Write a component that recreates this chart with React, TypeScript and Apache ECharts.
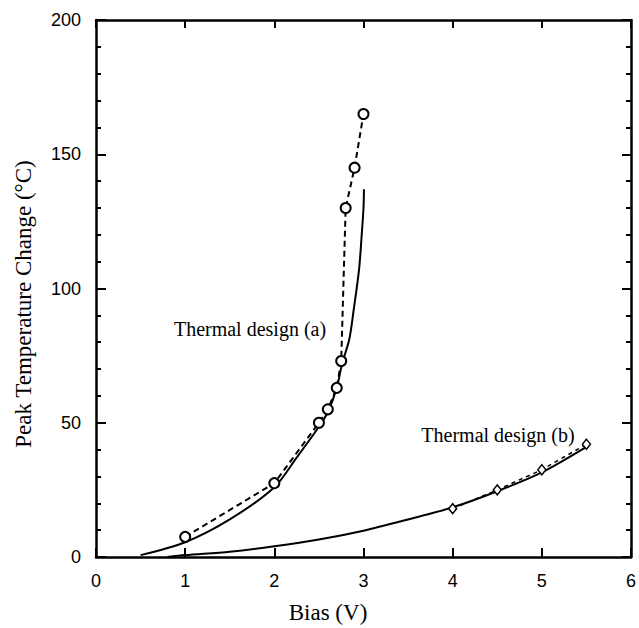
import React, { useEffect, useRef } from "react";
import * as echarts from "echarts";

// Thermal design (a): measured points (circles, dashed) and model (solid)
const designAMeasuredX = [1, 2, 2.5, 2.6, 2.7, 2.75, 2.8, 2.9, 3.0];
const designAMeasuredY = [7.5, 27.5, 50, 55, 63, 73, 130, 145, 165];
const designAModelX = [0.5, 1, 1.5, 2, 2.25, 2.5, 2.6, 2.7, 2.76, 2.84, 2.89, 2.95, 2.98, 3.0, 3.005];
const designAModelY = [0.7, 5.5, 14, 26, 37, 48.5, 54, 63, 72, 81, 92, 107, 120, 130, 137];

// Thermal design (b): measured points (diamonds, dashed) and model (solid)
const designBMeasuredX = [4, 4.5, 5, 5.5];
const designBMeasuredY = [18, 25, 32.5, 42];
const designBModelX = [0.8, 1, 1.5, 2, 2.5, 3, 3.5, 4, 4.5, 5, 5.5];
const designBModelY = [0, 0.7, 2, 4, 6.5, 9.8, 14, 18.5, 24.5, 31.5, 41];

const xTicks = [0, 1, 2, 3, 4, 5, 6];
const yTicks = [0, 50, 100, 150, 200];

const xTitle = "Bias (V)";
const yTitle = "Peak Temperature Change (°C)";
const labelA = "Thermal design (a)";
const labelB = "Thermal design (b)";

const zip = (xs: number[], ys: number[]) => xs.map((x, i) => [x, ys[i]]);

const SANS = "'Liberation Sans', Arial, sans-serif";
const SERIF = "'Liberation Serif', 'Times New Roman', serif";

export default function App() {
  const ref = useRef<HTMLDivElement>(null);

  useEffect(() => {
    if (!ref.current) return;
    const chart = echarts.init(ref.current, undefined, { renderer: "svg" });

    const axisLine = { show: true, onZero: false, lineStyle: { color: "#000", width: 2.5 } };
    const xBase = {
      type: "value" as const,
      min: xTicks[0],
      max: xTicks[xTicks.length - 1],
      interval: 1,
      splitLine: { show: false },
      axisLine,
    };
    const yBase = {
      type: "value" as const,
      min: yTicks[0],
      max: yTicks[yTicks.length - 1],
      interval: 50,
      splitLine: { show: false },
      minorSplitLine: { show: false },
      axisLine,
    };

    chart.setOption({
      animation: false,
      backgroundColor: "#fff",
      grid: { left: 96, right: 6, top: 20, bottom: 71, containLabel: false },
      xAxis: [
        {
          ...xBase,
          position: "bottom",
          axisTick: { show: true, inside: true, length: 9, lineStyle: { color: "#000", width: 2 } },
          axisLabel: {
            show: true,
            margin: 15,
            color: "#000",
            fontSize: 18,
            fontFamily: SANS,
          },
        },
        {
          ...xBase,
          position: "top",
          axisTick: { show: true, inside: true, length: 8, lineStyle: { color: "#000", width: 2 } },
          axisLabel: { show: false },
        },
      ],
      yAxis: [
        {
          ...yBase,
          position: "left",
          axisTick: { show: true, inside: true, length: 10, lineStyle: { color: "#000", width: 2 } },
          minorTick: { show: true, splitNumber: 5, length: 5, lineStyle: { color: "#000", width: 2 } },
          axisLabel: {
            show: true,
            margin: 15,
            color: "#000",
            fontSize: 18,
            fontFamily: SANS,
          },
        },
        {
          ...yBase,
          position: "right",
          axisTick: { show: true, inside: true, length: 9, lineStyle: { color: "#000", width: 2 } },
          minorTick: { show: true, splitNumber: 5, length: 5, lineStyle: { color: "#000", width: 2 } },
          axisLabel: { show: false },
        },
      ],
      series: [
        {
          type: "line",
          name: "Design (a) model",
          data: zip(designAModelX, designAModelY),
          showSymbol: false,
          symbol: "none",
          smooth: 0.3,
          lineStyle: { color: "#000", width: 2 },
          z: 2,
        },
        {
          type: "line",
          name: "Design (a) measured",
          data: zip(designAMeasuredX, designAMeasuredY),
          symbol: "circle",
          symbolSize: 10,
          itemStyle: { color: "#fff", borderColor: "#000", borderWidth: 2 },
          lineStyle: { color: "#000", width: 2, type: [6, 4] },
          z: 3,
        },
        {
          type: "line",
          name: "Design (b) model",
          data: zip(designBModelX, designBModelY),
          showSymbol: false,
          symbol: "none",
          smooth: 0.3,
          lineStyle: { color: "#000", width: 2 },
          z: 2,
        },
        {
          type: "line",
          name: "Design (b) measured",
          data: zip(designBMeasuredX, designBMeasuredY),
          symbol: "diamond",
          symbolSize: [8, 10],
          itemStyle: { color: "#fff", borderColor: "#000", borderWidth: 1.5 },
          lineStyle: { color: "#000", width: 1.5, type: [4, 4] },
          z: 3,
        },
      ],
      graphic: [
        {
          type: "text",
          x: 328,
          y: 612,
          style: {
            text: xTitle,
            fill: "#000",
            font: `23px ${SERIF}`,
            textAlign: "center",
            textVerticalAlign: "middle",
          },
        },
        {
          type: "text",
          x: 23,
          y: 304,
          rotation: Math.PI / 2,
          style: {
            text: yTitle,
            fill: "#000",
            font: `23px ${SERIF}`,
            textAlign: "center",
            textVerticalAlign: "middle",
          },
        },
        {
          type: "text",
          x: 250,
          y: 329,
          style: {
            text: labelA,
            fill: "#000",
            font: `20px ${SERIF}`,
            textAlign: "center",
            textVerticalAlign: "middle",
          },
        },
        {
          type: "text",
          x: 498,
          y: 435,
          style: {
            text: labelB,
            fill: "#000",
            font: `20px ${SERIF}`,
            textAlign: "center",
            textVerticalAlign: "middle",
          },
        },
      ],
    });

    return () => chart.dispose();
  }, []);

  return (
    <div
      ref={ref}
      style={{ position: "fixed", left: 0, top: 0, width: 639, height: 628, background: "#fff" }}
    />
  );
}
